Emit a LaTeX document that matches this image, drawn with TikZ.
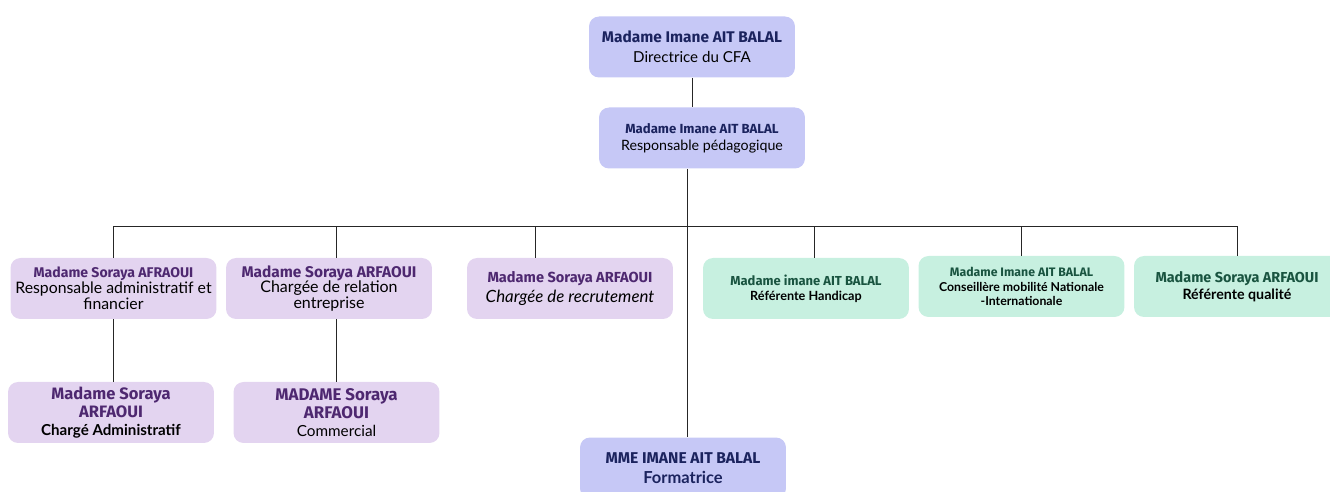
\documentclass[tikz,border=0pt]{standalone}
\usepackage{fontspec}
\setmainfont{Lato}
\newfontfamily\namefont{Fira Sans}
\usetikzlibrary{positioning}

\definecolor{fillblue}{RGB}{198,200,246}
\definecolor{fillpurple}{RGB}{227,212,240}
\definecolor{fillgreen}{RGB}{199,240,224}
\definecolor{inkblue}{RGB}{27,35,94}
\definecolor{inkpurple}{RGB}{78,40,112}
\definecolor{inkgreen}{RGB}{25,84,64}

\newcommand{\fs}[2][1.2]{\fontsize{#2}{#1\dimexpr#2pt\relax}\selectfont}
\newcommand{\nameblue}[1]{{\namefont\bfseries\color{inkblue}#1}}
\newcommand{\namepurple}[1]{{\namefont\bfseries\color{inkpurple}#1}}
\newcommand{\namegreen}[1]{{\namefont\bfseries\color{inkgreen}#1}}

\tikzset{
  card/.style={rounded corners=0.2cm, minimum width=4.12cm, minimum height=1.22cm,
    align=center, inner sep=1pt},
  bluecard/.style={card, fill=fillblue},
  purplecard/.style={card, fill=fillpurple},
  greencard/.style={card, fill=fillgreen},
  link/.style={draw=black!85, line width=0.55pt}
}

\begin{document}
\begin{tikzpicture}[x=0.02cm,y=-0.02cm]
  \useasboundingbox (0,0) rectangle (1330,492);

  % top of the chart
  \node[bluecard, font={\fs[1.35]{8.6}}] (dir) at (692,47)
    {\nameblue{\fs{8.8}Madame Imane AIT BALAL}\\Directrice du CFA};
  \node[bluecard, font=\fs{8.1}] (resp) at (702,138)
    {\nameblue{\fs{7.5}Madame Imane AIT BALAL}\\Responsable pédagogique};

  % second row
  \node[purplecard, font={\fs[1.0]{9}}] (b1) at (113.5,288.5)
    {\namepurple{\fs{8}Madame Soraya AFRAOUI}\\Responsable administratif et\\financier};
  \node[purplecard, font={\fs[1.0]{9.1}}] (b2) at (329,288.5)
    {\namepurple{\fs{8.8}Madame Soraya ARFAOUI}\\Chargée de relation\\entreprise};
  \node[purplecard, font=\fs{9.6}] (b3) at (570,288.5)
    {\namepurple{\fs{8.3}Madame Soraya ARFAOUI}\\\itshape Chargée de recrutement};
  \node[greencard, font=\fs{7.2}\bfseries] (b4) at (806,288.5)
    {\namegreen{\fs{7.4}Madame imane AIT BALAL}\\Référente Handicap};
  \node[greencard, font=\fs{7}\bfseries] (b5) at (1021.5,286.5)
    {\namegreen{\fs{7}Madame Imane AIT BALAL}\\Conseillère mobilité Nationale\\-Internationale};
  \node[greencard, font=\fs{8.1}\bfseries] (b6) at (1237,286.5)
    {\namegreen{\fs{8.2}Madame Soraya ARFAOUI}\\Référente qualité};

  % third row
  \node[purplecard, font=\fs{8.6}\bfseries] (c1) at (111,412.5)
    {\namepurple{\fs{9.4}Madame Soraya}\\\namepurple{\fs{9.4}ARFAOUI}\\Chargé Administratif};
  \node[purplecard, font=\fs{8.7}] (c2) at (336.5,412.5)
    {\namepurple{\fs{9.6}MADAME Soraya}\\\namepurple{\fs{9.6}ARFAOUI}\\Commercial};
  \node[bluecard, font=\fs{9.4}\bfseries\color{inkblue}] (form) at (683,468)
    {\nameblue{\fs{8.9}MME IMANE AIT BALAL}\\Formatrice};

  % connectors
  \coordinate (bus) at (0,226);
  \coordinate (trunk) at ([xshift=4*0.02cm]form.north);
  \draw[link] (dir.south) -- (dir.south |- resp.north);
  \draw[link] (trunk |- resp.south) -- (trunk);
  \draw[link] (b1.north |- bus) -- (b6.north |- bus);
  \foreach \n/\dx in {b1/0,b2/7,b3/-35,b4/8,b5/0,b6/0} {
    \coordinate (top) at ([xshift=\dx*0.02cm]\n.north);
    \draw[link] (top) -- (top |- bus);
  }
  \draw[link] (b1.south) -- (b1.south |- c1.north);
  \draw[link] (c2.north |- b2.south) -- (c2.north);
\end{tikzpicture}
\end{document}
